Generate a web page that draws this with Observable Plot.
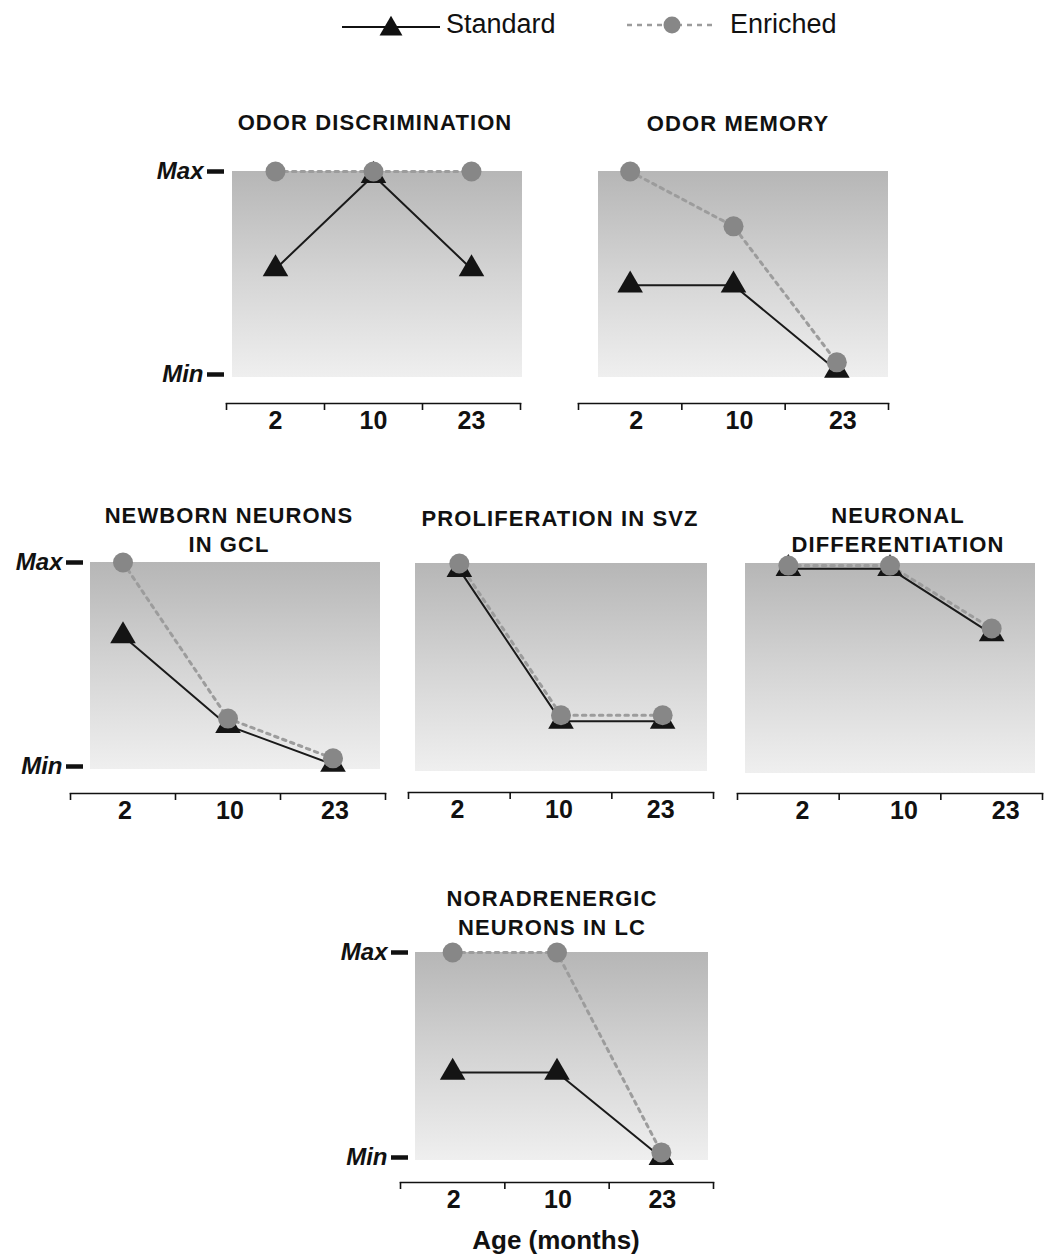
<!DOCTYPE html>
<html>
<head>
<meta charset="utf-8">
<script src="https://cdn.jsdelivr.net/npm/d3@7"></script>
<script src="https://cdn.jsdelivr.net/npm/@observablehq/plot@0.6"></script>
<style>
  html, body { margin: 0; padding: 0; background: #fff; }
  body { width: 1045px; height: 1260px; overflow: hidden; font-family: "Liberation Sans", Arial, sans-serif; }
  #root { position: relative; width: 1045px; height: 1260px; }
  .panel { position: absolute; }
  .ptitle { position: absolute; transform: translateX(-50%); text-align: center; font-weight: bold; font-size: 22px; letter-spacing: 1.1px; line-height: 29px; white-space: nowrap; color: #111; }
  .xlab { position: absolute; transform: translate(-50%, -50%); font-weight: bold; font-size: 26px; white-space: nowrap; color: #111; }
  svg.plot text { font-family: "Liberation Sans", Arial, sans-serif; }
  .ylab text { font-weight: bold; font-style: italic; }
  .xtl text { font-weight: bold; }
</style>
</head>
<body>
<div id="root"></div>
<script>
// ---- Data ----
const ages = ["2", "10", "23"];
const panelTitles = [
  ["ODOR DISCRIMINATION"],
  ["ODOR MEMORY"],
  ["NEWBORN NEURONS", "IN GCL"],
  ["PROLIFERATION IN SVZ"],
  ["NEURONAL", "DIFFERENTIATION"],
  ["NORADRENERGIC", "NEURONS IN LC"]
];
// values scaled 0 (Min) .. 1 (Max)
const standardValues = [
  [0.52, 0.98, 0.52],
  [0.44, 0.44, 0.02],
  [0.64, 0.20, 0.01],
  [0.97, 0.23, 0.23],
  [0.975, 0.975, 0.66],
  [0.415, 0.415, 0.00]
];
const enrichedValues = [
  [1.00, 1.00, 1.00],
  [1.00, 0.73, 0.06],
  [1.00, 0.235, 0.04],
  [1.00, 0.26, 0.26],
  [0.99, 0.99, 0.686],
  [1.00, 1.00, 0.025]
];
const yTickLabels = ["Min", "Max"];
const seriesNames = ["Standard", "Enriched"];
const xAxisTitle = "Age (months)";

// ---- Layout (page pixels) ----
const layout = [
  {xL: 226, xR: 520, yMax: 171, yMin: 374, axisY: 403, bgL: 6, bgR: -2, showY: true, yDx: -2, labDx: 0, titleX: 375, titleY: 108},
  {xL: 578, xR: 888, yMax: 171, yMin: 374, axisY: 403, bgL: 20, bgR: 0, showY: false, yDx: 0, labDx: 6, titleX: 738, titleY: 109},
  {xL: 70,  xR: 385, yMax: 562, yMin: 766, axisY: 793, bgL: 20, bgR: 5, showY: true, yDx: 13, labDx: 2, titleX: 229, titleY: 501},
  {xL: 408, xR: 713, yMax: 563, yMin: 768, axisY: 792, bgL: 7, bgR: 6, showY: false, yDx: 0, labDx: -2, titleX: 560, titleY: 504},
  {xL: 737, xR: 1042, yMax: 563, yMin: 770, axisY: 793, bgL: 8, bgR: 7, showY: false, yDx: 0, labDx: 14, titleX: 898, titleY: 501},
  {xL: 400, xR: 713, yMax: 952, yMin: 1157, axisY: 1182, bgL: 15, bgR: 5, showY: true, yDx: 8, labDx: 1, titleX: 552, titleY: 884}
];

const root = document.getElementById("root");

// shared gradient definition
root.insertAdjacentHTML("beforeend", `
<svg width="0" height="0" style="position:absolute">
  <defs>
    <linearGradient id="bgGrad" x1="0" y1="0" x2="0" y2="1">
      <stop offset="0" stop-color="#b6b6b6"/>
      <stop offset="0.5" stop-color="#d4d4d4"/>
      <stop offset="1" stop-color="#efefef"/>
    </linearGradient>
  </defs>
</svg>`);

const mL = 95, mR = 8, mT = 16, mB = 42;

layout.forEach((L, p) => {
  const rows = ages.map((a, i) => ({
    age: a,
    pos: i + 0.5,
    std: standardValues[p][i],
    enr: enrichedValues[p][i]
  }));
  const top = L.yMax - mT;
  const left = L.xL - mL;
  const width = L.xR - L.xL + mL + mR;
  const height = L.axisY - top + mB;

  const marks = [
    Plot.rect([0], {x1: 0, x2: ages.length, y1: 0, y2: 1, fill: "url(#bgGrad)",
      insetLeft: L.bgL, insetRight: L.bgR, insetBottom: -3}),
    Plot.frame({anchor: "bottom", stroke: "#111", strokeWidth: 1.6}),
    Plot.axisX({ticks: d3.range(ages.length + 1), tickFormat: () => "", tickSize: 7, strokeWidth: 1.6, stroke: "#111", label: null}),
    Plot.axisX({ticks: rows.map(d => d.pos), tickFormat: (d, i) => ages[i], tickSize: 0, tickPadding: 8, dx: L.labDx,
      fontSize: 25, fontWeight: "bold", fill: "#111", className: "xtl", label: null}),
    Plot.line(rows, {x: "pos", y: "std", stroke: "#1a1a1a", strokeWidth: 2}),
    Plot.line(rows, {x: "pos", y: "enr", stroke: "#9c9c9c", strokeWidth: 3, strokeDasharray: "3.5,5"}),
    Plot.dot(rows, {x: "pos", y: "std", symbol: "triangle", r: 9.5, fill: "#141414", stroke: "none"}),
    Plot.dot(rows, {x: "pos", y: "enr", symbol: "circle", r: 10, fill: "#878787", stroke: "none"})
  ];
  if (L.showY) {
    marks.splice(1, 0, Plot.axisY({ticks: [0, 1], tickFormat: d => yTickLabels[d], tickSize: 17,
      strokeWidth: 4.5, stroke: "#111", dx: L.yDx, tickPadding: 4, fontSize: 24, fill: "#111", className: "ylab", label: null}));
  }

  const svg = Plot.plot({
    width, height,
    marginLeft: mL, marginRight: mR, marginTop: mT, marginBottom: mB,
    style: {background: "transparent", overflow: "visible"},
    x: {domain: [0, ages.length], axis: null},
    y: {domain: [0, 1], range: [L.yMin - top, L.yMax - top], axis: null},
    marks
  });
  svg.classList.add("plot");
  svg.classList.add("panel");
  svg.style.left = left + "px";
  svg.style.top = top + "px";
  root.appendChild(svg);

  const t = document.createElement("div");
  t.className = "ptitle";
  t.style.left = L.titleX + "px";
  t.style.top = L.titleY + "px";
  t.innerHTML = panelTitles[p].join("<br>");
  root.appendChild(t);
});

// x axis title
const xt = document.createElement("div");
xt.className = "xlab";
xt.style.left = "556px";
xt.style.top = "1240px";
xt.textContent = xAxisTitle;
root.appendChild(xt);

// legend
const leg = document.createElementNS("http://www.w3.org/2000/svg", "svg");
leg.setAttribute("width", 1045);
leg.setAttribute("height", 50);
leg.style.position = "absolute";
leg.style.left = "0px";
leg.style.top = "0px";
const tri = d3.symbol(d3.symbolTriangle, Math.PI * 8.5 * 8.5)();
const circ = d3.symbol(d3.symbolCircle, Math.PI * 8.5 * 8.5)();
leg.innerHTML = `
  <line x1="342" x2="440" y1="27" y2="27" stroke="#111" stroke-width="2.2"/>
  <path d="${tri}" transform="translate(391,29)" fill="#111"/>
  <text x="446" y="33" font-size="27" font-family="Liberation Sans, Arial, sans-serif" fill="#111">${seriesNames[0]}</text>
  <line x1="627" x2="715" y1="25" y2="25" stroke="#9c9c9c" stroke-width="2.5" stroke-dasharray="5,5"/>
  <path d="${circ}" transform="translate(672,25)" fill="#878787"/>
  <text x="730" y="33" font-size="27" font-family="Liberation Sans, Arial, sans-serif" fill="#111">${seriesNames[1]}</text>
`;
root.appendChild(leg);
</script>
</body>
</html>
